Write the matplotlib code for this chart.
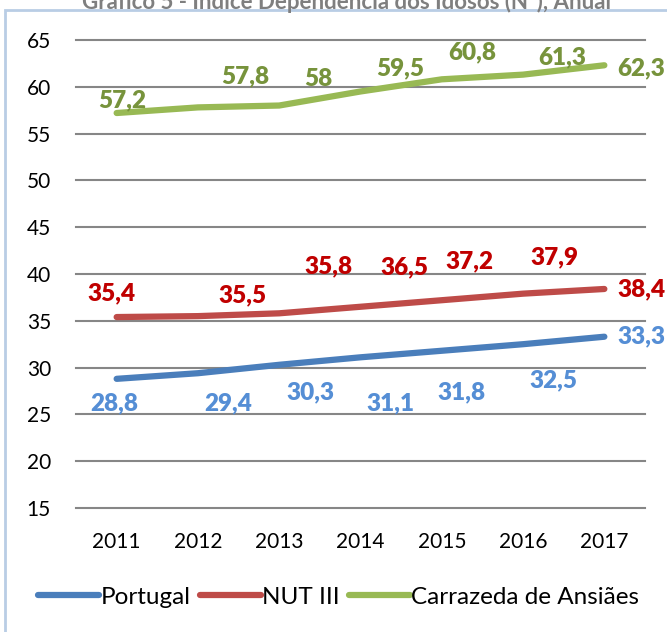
import matplotlib
matplotlib.use("Agg")
import matplotlib.pyplot as plt
from matplotlib.patches import Rectangle

# =========================
# DATA
# =========================
years = ["2011", "2012", "2013", "2014", "2015", "2016", "2017"]
portugal = [28.8, 29.4, 30.3, 31.1, 31.8, 32.5, 33.3]
nut3 = [35.4, 35.5, 35.8, 36.5, 37.2, 37.9, 38.4]
carrazeda = [57.2, 57.8, 58.0, 59.5, 60.8, 61.3, 62.3]
yticks = [15, 20, 25, 30, 35, 40, 45, 50, 55, 60, 65]

# label offsets in pixels (dx, dy) as placed by hand in the original
off_pt = [(-2, -24), (30, -30), (31, -28), (30, -46), (20, -42), (30, -36), (37, 0)]
off_nut = [(-5, 24), (45, 21), (49, 47), (44, 39), (28, 39), (31, 36), (37, 0)]
off_car = [(6, 13), (47, 31), (39, 27), (40, 23), (30, 27), (39, 17), (37, -3)]

plt.rcParams["font.family"] = ["Lato", "DejaVu Sans"]

fig = plt.figure(figsize=(6.67, 6.32), dpi=100)

# chart frame (light blue border, partly outside the crop)
fig.patches.append(Rectangle((5 / 667, -0.1), 1.2, 1 - 10 / 632 + 0.1,
                             transform=fig.transFigure, fill=False,
                             edgecolor="#B9CDE5", linewidth=2))

# title is cut by the top edge in the original
fig.text(0.52, 1.0, "Gráfico 5 - Índice Dependência dos Idosos (Nº), Anual",
         ha="center", va="center", fontsize=16, fontweight="bold", color="#7F7F7F")

ax = fig.add_axes([76 / 667, 1 - 508 / 632, 569 / 667, 468 / 632])

x = list(range(len(years)))
series = [
    (portugal, "Portugal", "#4A7EBB", "#558ED5", off_pt),
    (nut3, "NUT III", "#BE4B48", "#C00000", off_nut),
    (carrazeda, "Carrazeda de Ansiães", "#98B954", "#77933C", off_car),
]

for vals, name, lc, tc, offs in series:
    ax.plot(x, vals, color=lc, linewidth=4.5, solid_capstyle="round", label=name, zorder=3)
    for xi, v, (dx, dy) in zip(x, vals, offs):
        ax.annotate(f"{v:g}".replace(".", ","), (xi, v), xytext=(dx, dy),
                    textcoords="offset pixels", ha="center", va="center",
                    fontsize=17.5, fontweight="heavy", color=tc, annotation_clip=False)

ax.set_xlim(-0.5, len(years) - 0.5)
ax.set_ylim(15, 65)
ax.set_xticks(x)
ax.set_xticklabels(years)
ax.set_yticks(yticks)
ax.tick_params(axis="both", length=0, labelsize=15, colors="black")
ax.tick_params(axis="y", pad=18)
ax.tick_params(axis="x", pad=17)
ax.grid(axis="y", color="#868686", linewidth=1.5)
ax.set_axisbelow(True)
for s in ax.spines.values():
    s.set_visible(False)
for gl in ax.get_ygridlines():
    gl.set_clip_on(False)

fig.legend(loc="center", bbox_to_anchor=(0.508, 1 - 597 / 632), ncol=3, frameon=False,
           fontsize=17.5, handlelength=2.5, handletextpad=0.05, columnspacing=0.4)

plt.savefig("out.png", dpi=100)
plt.close()
